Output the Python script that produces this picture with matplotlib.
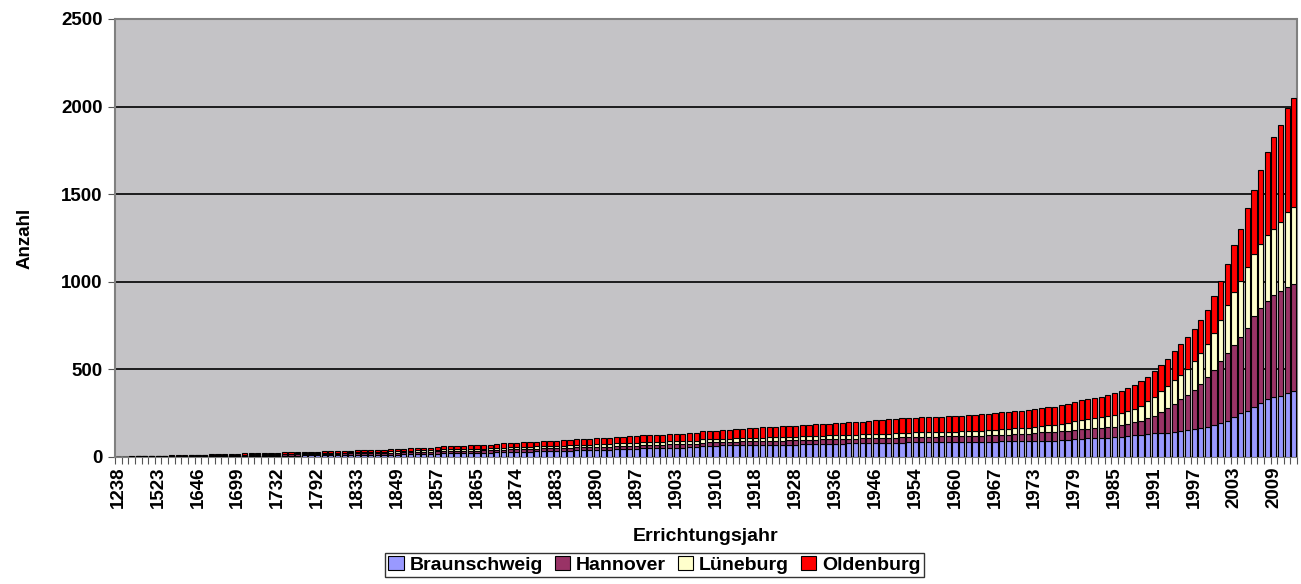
import matplotlib.pyplot as plt
import numpy as np

# Jahre (Kategorien), nur jedes 6. wird beschriftet
years = [1238, 1300, 1350, 1400, 1450, 1500,
         1523, 1550, 1580, 1600, 1615, 1630,
         1646, 1660, 1670, 1680, 1688, 1694,
         1699, 1705, 1712, 1718, 1722, 1727,
         1732, 1740, 1750, 1762, 1775, 1785,
         1792, 1800, 1810, 1818, 1825, 1829,
         1833, 1836, 1839, 1842, 1845, 1847,
         1849, 1850, 1852, 1853, 1855, 1856,
         1857, 1858, 1860, 1861, 1862, 1864,
         1865, 1866, 1868, 1869, 1871, 1872,
         1874, 1875, 1876, 1878, 1880, 1881,
         1883, 1884, 1885, 1887, 1888, 1889,
         1890, 1891, 1892, 1894, 1895, 1896,
         1897, 1898, 1899, 1900, 1901, 1902,
         1903, 1904, 1905, 1906, 1908, 1909,
         1910, 1911, 1912, 1913, 1914, 1916,
         1918, 1920, 1921, 1922, 1924, 1926,
         1928, 1929, 1930, 1932, 1933, 1935,
         1936, 1937, 1938, 1939, 1940, 1943,
         1946, 1948, 1949, 1950, 1951, 1952,
         1954, 1955, 1956, 1957, 1958, 1959,
         1960, 1961, 1962, 1964, 1965, 1966,
         1967, 1968, 1969, 1970, 1971, 1972,
         1973, 1974, 1975, 1976, 1977, 1978,
         1979, 1980, 1981, 1982, 1983, 1984,
         1985, 1986, 1987, 1988, 1989, 1990,
         1991, 1992, 1993, 1994, 1995, 1996,
         1997, 1998, 1999, 2000, 2001, 2002,
         2003, 2004, 2005, 2006, 2007, 2008,
         2009, 2010, 2011, 2012]

# kumulierte Anzahl je Bezirk
braunschweig = [0, 0, 1, 1, 1, 1, 2, 2, 2, 3, 3, 3, 3, 4, 4, 4, 5, 5, 5, 6,
                6, 6, 7, 7, 7, 8, 8, 8, 9, 9, 9, 10, 10, 10, 11, 11, 12, 12, 12, 13,
                13, 14, 14, 15, 16, 16, 17, 18, 19, 20, 20, 21, 21, 22, 23, 23, 24, 26, 27, 28,
                29, 31, 31, 32, 33, 33, 34, 35, 36, 38, 38, 39, 41, 41, 42, 44, 44, 46, 46, 49,
                50, 50, 51, 53, 53, 54, 56, 57, 62, 63, 64, 66, 67, 67, 68, 68, 69, 69, 70, 70,
                70, 71, 71, 72, 74, 74, 75, 75, 76, 76, 77, 77, 78, 78, 79, 80, 80, 81, 82, 83,
                83, 84, 84, 84, 85, 85, 85, 86, 86, 87, 87, 88, 88, 89, 89, 90, 91, 91, 92, 92,
                93, 94, 95, 96, 103, 104, 106, 109, 110, 111, 112, 116, 120, 125, 127, 133, 135, 137, 139, 143,
                148, 154, 162, 168, 173, 183, 196, 208, 231, 250, 265, 288, 307, 332, 342, 349, 364, 374]
hannover = [1, 1, 1, 2, 2, 2, 2, 3, 3, 3, 3, 4, 4, 4, 4, 5, 5, 5, 5, 5,
            6, 6, 6, 6, 7, 7, 7, 8, 8, 8, 8, 8, 9, 9, 9, 9, 9, 10, 10, 10,
            10, 10, 11, 11, 11, 12, 12, 12, 13, 13, 13, 13, 13, 13, 13, 14, 14, 14, 15, 15,
            15, 15, 15, 15, 16, 16, 16, 16, 16, 17, 17, 17, 17, 17, 17, 18, 18, 18, 18, 18,
            18, 19, 19, 19, 19, 19, 19, 19, 20, 20, 20, 20, 20, 21, 21, 22, 22, 22, 23, 23,
            23, 24, 24, 24, 25, 25, 25, 26, 26, 26, 27, 27, 28, 28, 29, 30, 30, 30, 31, 31,
            31, 32, 32, 32, 33, 33, 33, 34, 34, 35, 35, 36, 37, 38, 39, 40, 41, 43, 45, 48,
            50, 51, 52, 53, 53, 54, 54, 55, 56, 58, 61, 65, 69, 72, 80, 87, 99, 117, 139, 160,
            181, 201, 222, 250, 286, 315, 350, 388, 411, 432, 472, 514, 544, 560, 582, 600, 608, 614]
lueneburg = [0, 0, 0, 0, 1, 1, 1, 1, 1, 1, 2, 2, 2, 2, 2, 2, 2, 3, 3, 3,
             3, 3, 3, 4, 4, 4, 4, 4, 4, 4, 5, 5, 5, 5, 5, 6, 6, 6, 6, 6,
             7, 8, 8, 8, 8, 9, 9, 9, 10, 10, 10, 10, 11, 11, 11, 11, 11, 12, 12, 12,
             12, 13, 13, 13, 13, 13, 14, 14, 14, 14, 15, 15, 15, 16, 16, 16, 16, 16, 17, 17,
             17, 17, 17, 17, 18, 18, 18, 18, 18, 18, 18, 18, 18, 18, 19, 19, 19, 19, 19, 20,
             20, 20, 20, 21, 21, 21, 21, 22, 22, 22, 22, 23, 23, 23, 24, 24, 24, 25, 25, 25,
             26, 26, 26, 27, 27, 27, 27, 28, 28, 29, 29, 30, 30, 31, 32, 33, 33, 34, 35, 36,
             37, 38, 41, 44, 50, 54, 57, 59, 61, 63, 66, 69, 72, 77, 85, 97, 110, 124, 129, 134,
             141, 148, 166, 173, 184, 210, 238, 272, 297, 325, 350, 356, 364, 373, 380, 394, 424, 440]
oldenburg = [0, 1, 1, 1, 1, 2, 2, 2, 3, 3, 3, 3, 4, 4, 5, 5, 5, 5, 6, 6,
             6, 7, 7, 7, 7, 7, 8, 8, 8, 9, 9, 9, 9, 10, 10, 10, 10, 10, 11, 11,
             12, 12, 13, 13, 14, 14, 15, 15, 16, 18, 19, 19, 20, 20, 21, 21, 22, 24, 25, 25,
             26, 27, 28, 28, 28, 29, 29, 30, 31, 32, 32, 33, 34, 34, 35, 35, 36, 37, 37, 39,
             40, 40, 41, 42, 42, 43, 44, 45, 46, 47, 48, 48, 51, 52, 54, 55, 57, 59, 59, 59,
             61, 62, 64, 64, 65, 66, 67, 68, 68, 70, 71, 72, 73, 75, 77, 79, 81, 81, 83, 84,
             84, 84, 86, 86, 86, 87, 88, 88, 90, 90, 92, 92, 94, 96, 97, 98, 99, 102, 102, 104,
             104, 104, 106, 108, 110, 112, 114, 116, 118, 121, 124, 129, 133, 136, 139, 142, 145, 148, 154, 166,
             175, 179, 182, 188, 197, 210, 222, 234, 272, 293, 334, 366, 424, 474, 522, 553, 595, 619]

series = [("Braunschweig", braunschweig, "#9999FF"),
          ("Hannover", hannover, "#993366"),
          ("Lüneburg", lueneburg, "#FFFFCC"),
          ("Oldenburg", oldenburg, "#FF0000")]

plt.rcParams['font.family'] = ['Liberation Sans', 'DejaVu Sans']

fig = plt.figure(figsize=(13.01, 5.84), dpi=100)
ax = fig.add_axes([0.0884, 0.2175, 0.9086, 0.75])
ax.set_facecolor("#c4c3c6")

x = np.arange(len(years))
bottom = np.zeros(len(years))
for name, vals, col in series:
    vals = np.array(vals)
    ax.bar(x, vals, width=0.78, bottom=bottom, color=col, edgecolor="black",
           linewidth=0.8, label=name, zorder=3)
    bottom += vals

ax.set_xlim(-0.5, len(years) - 0.5)
ax.set_ylim(0, 2500)
ax.set_yticks([0, 500, 1000, 1500, 2000, 2500])
ax.yaxis.grid(True, color="black", linewidth=1.2, zorder=1)
ax.set_axisbelow(True)

# Beschriftung jedes 6. Jahres, kleine Striche an jeder Kategoriegrenze
ax.set_xticks(x[::6])
ax.set_xticklabels([str(y) for y in years[::6]], rotation=90, fontsize=13.5, fontweight="bold")
ax.set_xticks(np.arange(len(years) + 1) - 0.5, minor=True)
ax.tick_params(axis="x", which="major", length=0, pad=7)
ax.tick_params(axis="x", which="minor", length=5, width=0.8, color="#555555")
ax.tick_params(axis="y", length=5, width=0.8, color="#555555", labelsize=13.5, pad=4)
for lab in ax.get_yticklabels():
    lab.set_fontweight("bold")

for s in ax.spines.values():
    s.set_color("#808080")
    s.set_linestyle((0, (1, 1)))
    s.set_linewidth(1.5)

ax.set_ylabel("Anzahl", fontsize=13.5, fontweight="bold", labelpad=20)
ax.set_xlabel("Errichtungsjahr", fontsize=14, fontweight="bold", labelpad=14)

# Legende unten mittig, wie im Original knapp am Bildrand
leg = fig.legend(loc="lower center", bbox_to_anchor=(0.503, -0.004), ncol=4,
                 frameon=True, fancybox=False, edgecolor="black",
                 handlelength=0.8, handleheight=0.8, handletextpad=0.3,
                 columnspacing=0.6, borderpad=0.15,
                 prop={"size": 14, "weight": "bold"})
leg.get_frame().set_linewidth(1.0)

fig.savefig("out.png", dpi=100)
